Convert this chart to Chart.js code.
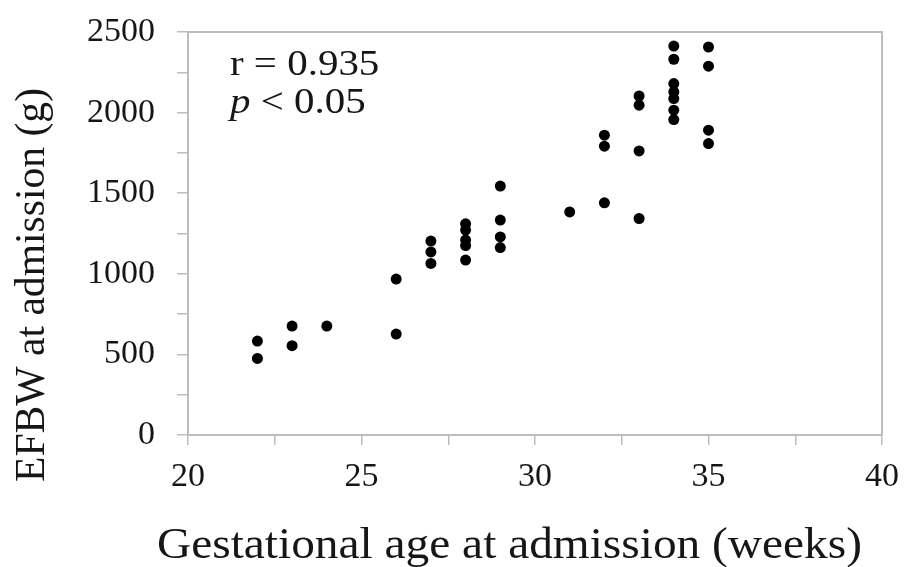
<!DOCTYPE html>
<html>
<head>
<meta charset="utf-8">
<script src="https://cdn.jsdelivr.net/npm/chart.js@4.4.1/dist/chart.umd.min.js"></script>
<style>
html,body{margin:0;padding:0;background:#fff;}
#wrap{width:904px;height:567px;position:relative;}
</style>
</head>
<body>
<div id="wrap"><canvas id="c" width="904" height="567"></canvas></div>
<script>
// Gestational age (weeks) and EFBW (g)
const weeks = [22,22,23,23,24,26,26,27,27,27,28,28,28,28,28,29,29,29,29,31,32,32,32,33,33,33,33,34,34,34,34,34,34,34,35,35,35,35];
const efbw  = [583,475,676,554,676,967,626,1203,1136,1064,1310,1271,1209,1175,1085,1544,1333,1229,1163,1384,1860,1792,1440,2103,2046,1762,1343,2413,2331,2180,2128,2087,2015,1957,2407,2288,1891,1808];
const xTickLabels = [20,25,30,35,40];
const yTickLabels = [0,500,1000,1500,2000,2500];
const xTitle = 'Gestational age at admission (weeks)';
const yTitle = 'EFBW at admission (g)';
const annotationLines = ['r = 0.935','p < 0.05'];

const points = weeks.map((w,i)=>({x:w,y:efbw[i]}));
const SERIF = '"Liberation Serif","Times New Roman",serif';
const AXIS = '#bdbdbd';
const TEXT = '#161616';

function stretchedText(ctx, text, x, y, font, targetWidth){
  ctx.font = font;
  const w = ctx.measureText(text).width;
  const sx = targetWidth ? targetWidth / w : 1;
  ctx.save();
  ctx.translate(x, y);
  ctx.scale(sx, 1);
  ctx.fillText(text, 0, 0);
  ctx.restore();
  return w * sx;
}

const decor = {
  id:'decor',
  afterDraw(chart){
    const a = chart.chartArea, ctx = chart.ctx;
    ctx.save();
    // top and right frame
    ctx.strokeStyle = AXIS; ctx.lineWidth = 2;
    ctx.beginPath();
    ctx.moveTo(a.left, a.top); ctx.lineTo(a.right, a.top); ctx.lineTo(a.right, a.bottom);
    ctx.stroke();
    ctx.fillStyle = TEXT;
    ctx.textBaseline = 'alphabetic';
    ctx.textAlign = 'left';
    // annotation
    const x0 = a.left + 42;
    const sx = 1.17;
    ctx.save(); ctx.translate(x0, a.top + 43); ctx.scale(sx,1);
    ctx.font = '35px ' + SERIF; ctx.fillText(annotationLines[0], 0, 0);
    ctx.restore();
    ctx.save(); ctx.translate(x0, a.top + 81); ctx.scale(sx,1);
    ctx.font = 'italic 35px ' + SERIF; ctx.fillText('p', 0, 0);
    const pw = ctx.measureText('p').width;
    ctx.font = '35px ' + SERIF; ctx.fillText(annotationLines[1].slice(1), pw, 0);
    ctx.restore();
    // x axis title
    stretchedText(ctx, xTitle, 157, 558, '45px ' + SERIF, 705);
    // y axis title (rotated)
    ctx.save();
    ctx.translate(44, 482);
    ctx.rotate(-Math.PI/2);
    stretchedText(ctx, yTitle, 0, 0, '42px ' + SERIF, 394);
    ctx.restore();
    ctx.restore();
  }
};

new Chart(document.getElementById('c'), {
  type:'scatter',
  data:{datasets:[{data:points, backgroundColor:'#000', borderColor:'#000', pointRadius:5.5, pointHoverRadius:5.5, borderWidth:0}]},
  options:{
    responsive:false, animation:false, devicePixelRatio:1,
    layout:{padding:{top:32,right:22,left:0,bottom:0}},
    plugins:{legend:{display:false}, tooltip:{enabled:false}},
    scales:{
      x:{
        type:'linear', min:20, max:40,
        border:{color:AXIS, width:2},
        grid:{display:true, drawOnChartArea:false, drawTicks:true, tickLength:10, color:AXIS, lineWidth:1.5},
        ticks:{stepSize:2.5, autoSkip:false, maxRotation:0, padding:12, color:TEXT,
          font:{family:SERIF, size:34},
          callback:(v)=> xTickLabels.includes(v) ? String(v) : ''},
        title:{display:false},
        afterFit:(s)=>{ s.height = 132; s.paddingLeft = 0; s.paddingRight = 0; }
      },
      y:{
        type:'linear', min:0, max:2500,
        border:{color:AXIS, width:2},
        grid:{display:true, drawOnChartArea:false, drawTicks:true, tickLength:11, color:AXIS, lineWidth:1.5},
        ticks:{stepSize:250, autoSkip:false, padding:22, color:TEXT,
          font:{family:SERIF, size:34},
          callback:(v)=> yTickLabels.includes(v) ? String(v) : ''},
        title:{display:false},
        afterFit:(s)=>{ s.width = 188; s.paddingTop = 0; s.paddingBottom = 0; }
      }
    }
  },
  plugins:[decor]
});
</script>
</body>
</html>
